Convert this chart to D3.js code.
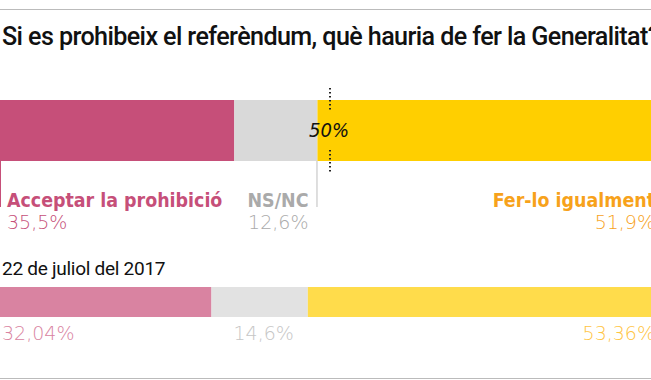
<!DOCTYPE html>
<head>
  <meta charset="utf-8">
  <script src="https://d3js.org/d3.v7.min.js"></script>
  <style>
    body { margin:0; padding:0; background:#fff; overflow:hidden; }
    text { font-family: "DejaVu Sans Condensed", "Roboto", sans-serif; }
    .head { font-family: "Roboto", sans-serif; }
    .num { font-family: "DejaVu Sans", sans-serif; font-weight:200; }
  </style>
</head>

<body>
  <script>
    var width = 651, height = 380;

    var title = "Si es prohibeix el referèndum, què hauria de fer la Generalitat?";
    var categories = ["Acceptar la prohibició", "NS/NC", "Fer-lo igualment"];
    var current = [35.5, 12.6, 51.9];
    var previous = [32.04, 14.6, 53.36];
    var previousLabel = "22 de juliol del 2017";
    var midMark = 50;

    var barColors = ["#c64f79", "#d9d9d9", "#ffcf00"];
    var prevColors = ["#d983a1", "#e2e2e2", "#ffdc4b"];
    var labelColors = ["#c64f79", "#aaaaaa", "#f7a21b"];
    var prevLabelColors = ["#d983a1", "#c6c6c6", "#ffc442"];

    var svg = d3.select("body").append("svg")
      .attr("width", width)
      .attr("height", height);

    var x = d3.scaleLinear().domain([0, 100]).range([0, 660]);

    function stack(vals) {
      var acc = 0;
      return vals.map(function(v, i) {
        var d = {i: i, v: v, x0: acc, x1: acc + v};
        acc += v;
        return d;
      });
    }
    function fmt(v) { return String(v).replace(".", ",") + "%"; }

    // shrink/grow a text's font so it spans the given width
    function fit(sel, w) {
      var fs = +sel.attr("font-size");
      var len = sel.node().getComputedTextLength();
      sel.attr("font-size", (fs * w / len).toFixed(2));
    }

    // frame lines
    svg.append("line").attr("x1", 0).attr("x2", width).attr("y1", 9.5).attr("y2", 9.5)
      .attr("stroke", "#bbb").attr("stroke-width", 1);
    svg.append("line").attr("x1", 0).attr("x2", width).attr("y1", 378.5).attr("y2", 378.5)
      .attr("stroke", "#bbb").attr("stroke-width", 1);

    var t = svg.append("text").attr("class", "head").attr("x", 2).attr("y", 45)
      .attr("font-size", 23).attr("font-weight", 500).attr("letter-spacing", -0.6)
      .attr("fill", "#111").text(title);
    fit(t, 654);

    // current bar
    var cur = stack(current);
    svg.append("g").selectAll("rect").data(cur).enter().append("rect")
      .attr("x", function(d) { return x(d.x0); })
      .attr("width", function(d) { return x(d.x1) - x(d.x0); })
      .attr("y", 100).attr("height", 61)
      .attr("fill", function(d) { return barColors[d.i]; });

    // leader ticks below the bar
    svg.append("line").attr("x1", x(0) + 0.5).attr("x2", x(0) + 0.5).attr("y1", 161).attr("y2", 207)
      .attr("stroke", barColors[0]).attr("stroke-width", 1);
    svg.append("line").attr("x1", x(cur[1].x1) - 0.5).attr("x2", x(cur[1].x1) - 0.5).attr("y1", 161).attr("y2", 207)
      .attr("stroke", "#d4d4d4").attr("stroke-width", 1.5);

    // 50% marker
    var dash = svg.append("g").attr("stroke", "#222").attr("stroke-width", 2).attr("stroke-dasharray", "1.5,2.5");
    dash.append("line").attr("x1", x(midMark)).attr("x2", x(midMark)).attr("y1", 88).attr("y2", 111);
    dash.append("line").attr("x1", x(midMark)).attr("x2", x(midMark)).attr("y1", 150).attr("y2", 173);
    svg.append("text").attr("x", x(midMark) - 1).attr("y", 137).attr("text-anchor", "middle")
      .attr("font-size", 20).attr("font-style", "italic")
      .attr("fill", "#111").text(midMark + "%");

    // category labels
    var anchorX = [
      function(d) { return x(d.x0) + 7; },
      function(d) { return x(d.x1) - 9; },
      function(d) { return x(d.x1) - 5; }
    ];
    var anchors = ["start", "end", "end"];
    var lab = svg.append("g").selectAll("g").data(cur).enter().append("g");
    lab.append("text")
      .attr("x", function(d) { return anchorX[d.i](d); })
      .attr("y", 207).attr("text-anchor", function(d) { return anchors[d.i]; })
      .attr("font-size", 19.4).attr("font-weight", "bold")
      .attr("fill", function(d) { return labelColors[d.i]; })
      .text(function(d) { return categories[d.i]; });
    lab.append("text").attr("class", "num")
      .attr("x", function(d) { return anchorX[d.i](d); })
      .attr("y", 229).attr("text-anchor", function(d) { return anchors[d.i]; })
      .attr("font-size", 19)
      .attr("fill", function(d) { return labelColors[d.i]; })
      .text(function(d) { return fmt(d.v); });

    // previous survey
    var pl = svg.append("text").attr("class", "head").attr("x", 2).attr("y", 275)
      .attr("font-size", 18).attr("font-weight", 400).attr("letter-spacing", -0.3)
      .attr("fill", "#111").text(previousLabel);
    fit(pl, 163);

    var prev = stack(previous);
    svg.append("g").selectAll("rect").data(prev).enter().append("rect")
      .attr("x", function(d) { return x(d.x0); })
      .attr("width", function(d) { return x(d.x1) - x(d.x0); })
      .attr("y", 287).attr("height", 30)
      .attr("fill", function(d) { return prevColors[d.i]; });

    var prevX = [
      function(d) { return x(d.x0) + 2; },
      function(d) { return x(d.x1) - 14; },
      function(d) { return x(d.x1) - 5; }
    ];
    svg.append("g").selectAll("text").data(prev).enter().append("text").attr("class", "num")
      .attr("x", function(d) { return prevX[d.i](d); })
      .attr("y", 340).attr("text-anchor", function(d) { return anchors[d.i]; })
      .attr("font-size", 19)
      .attr("fill", function(d) { return prevLabelColors[d.i]; })
      .text(function(d) { return fmt(d.v); });
  </script>
</body>
